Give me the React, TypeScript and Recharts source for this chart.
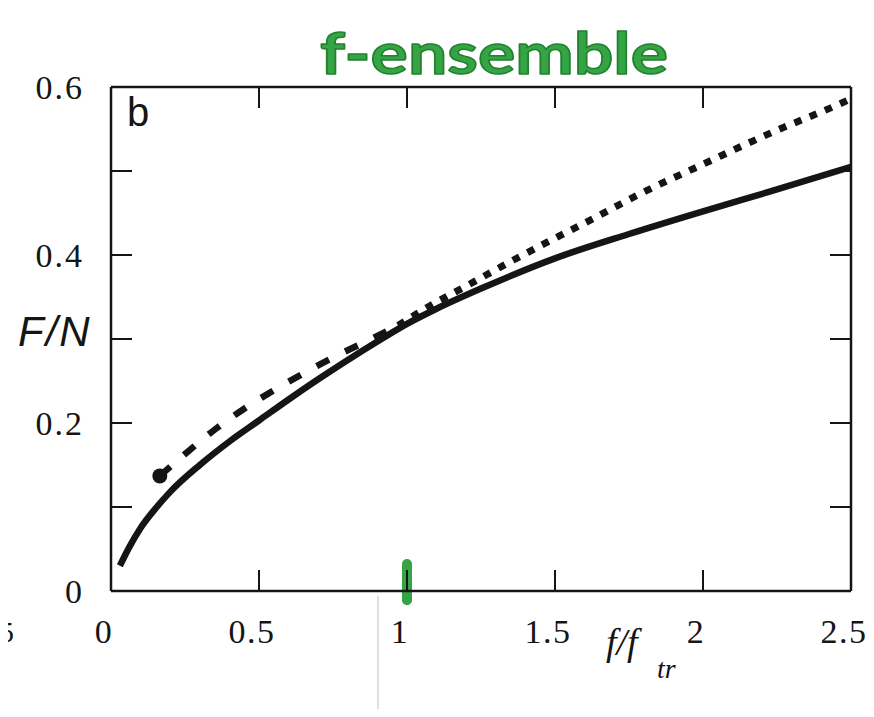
import React from 'react';
import { LineChart, Line, XAxis, YAxis, ReferenceLine } from 'recharts';

// Axis ticks
const xLabelTicks = [0, 0.5, 1, 1.5, 2, 2.5];
const xFrameTicks = [0.5, 1, 1.5, 2];
const yLabelTicks = [0, 0.2, 0.4, 0.6];
const yFrameTicks = [0.1, 0.2, 0.3, 0.4, 0.5];

// Solid curve: F/N versus f/f_tr
const solidX = [0.03, 0.06, 0.1, 0.15, 0.2, 0.3, 0.4, 0.5, 0.6, 0.7, 0.8, 0.9, 1.0, 1.1, 1.25, 1.5, 1.75, 2.0, 2.25, 2.5];
const solidY = [0.03, 0.051, 0.075, 0.098, 0.118, 0.15, 0.178, 0.203, 0.228, 0.252, 0.275, 0.297, 0.318, 0.336, 0.36, 0.396, 0.425, 0.452, 0.478, 0.505];

// Dashed branch (below f_tr), starting from a filled point
const dashedX = [0.165, 0.25, 0.35, 0.45, 0.55, 0.65, 0.75, 0.85, 0.97];
const dashedY = [0.137, 0.163, 0.192, 0.217, 0.239, 0.259, 0.278, 0.295, 0.316];

// Dotted branch (above f_tr)
const dottedX = [0.97, 1.06, 1.2, 1.36, 1.5, 1.6, 1.8, 2.0, 2.24, 2.45, 2.5];
const dottedY = [0.316, 0.336, 0.363, 0.394, 0.42, 0.438, 0.475, 0.508, 0.547, 0.578, 0.586];

const zip = (xs: number[], ys: number[]) => xs.map((x, i) => ({ x, y: ys[i] }));
const solidData = zip(solidX, solidY);
const dashedData = zip(dashedX, dashedY);
const dottedData = zip(dottedX, dottedY);

const INK = '#151515';
const GREEN = '#34a445';
const SERIF = '"Liberation Serif", "Times New Roman", serif';
const SANS = '"Liberation Sans", Arial, sans-serif';

const yLabelTick = { fontFamily: SERIF, fontSize: 34, fill: INK, letterSpacing: 2 };
const xLabelTick = { fontFamily: SERIF, fontSize: 34, fill: INK, letterSpacing: 1.5, dx: -7 };
const frameLine = { stroke: INK, strokeWidth: 2.5 };
const frameTickLine = { stroke: INK, strokeWidth: 2 };

// frame axes draw tick marks only, no text
const NoLabel = () => <g />;

const StartDot = (props: any) =>
  props.index === 0 ? (
    <circle key="start" cx={props.cx} cy={props.cy} r={7.5} fill={INK} />
  ) : (
    <g key={`n${props.index}`} />
  );

export default function App() {
  return (
    <div style={{ position: 'relative', margin: '-8px 0 0 -8px', width: 874, height: 709 }}>
      <LineChart
        width={874}
        height={709}
        margin={{ top: 86, right: 23, bottom: 58, left: 51 }}
      >
        {/* tick labels; the bottom one also draws the inward x ticks */}
        <XAxis
          xAxisId="lab"
          type="number"
          dataKey="x"
          domain={[0, 2.5]}
          allowDataOverflow
          ticks={xLabelTicks}
          interval={0}
          axisLine={false}
          tickLine={frameTickLine}
          tickSize={-21}
          tickMargin={49}
          height={60}
          tick={xLabelTick}
        />
        <YAxis
          yAxisId="lab"
          type="number"
          domain={[0, 0.6]}
          allowDataOverflow
          ticks={yLabelTicks}
          interval={0}
          axisLine={false}
          tickLine={false}
          tickSize={0}
          tickMargin={27}
          width={60}
          tick={yLabelTick}
        />
        {/* frame with inward ticks */}
        <XAxis
          xAxisId="bottomFrame"
          orientation="bottom"
          type="number"
          domain={[0, 2.5]}
          allowDataOverflow
          ticks={xFrameTicks}
          mirror
          tick={false}
          tickLine={false}
          axisLine={frameLine}
          height={1}
        />
        <XAxis
          xAxisId="topFrame"
          orientation="top"
          type="number"
          dataKey="x"
          domain={[0, 2.5]}
          allowDataOverflow
          ticks={xFrameTicks}
          interval={0}
          tick={NoLabel}
          tickSize={-21}
          tickMargin={0}
          axisLine={frameLine}
          tickLine={frameTickLine}
          height={1}
        />
        <YAxis
          yAxisId="leftFrame"
          orientation="left"
          type="number"
          domain={[0, 0.6]}
          allowDataOverflow
          ticks={yFrameTicks}
          interval={0}
          mirror
          tick={NoLabel}
          tickSize={21}
          axisLine={frameLine}
          tickLine={frameTickLine}
          width={1}
        />
        <YAxis
          yAxisId="rightFrame"
          orientation="right"
          type="number"
          domain={[0, 0.6]}
          allowDataOverflow
          ticks={yFrameTicks}
          interval={0}
          mirror
          tick={NoLabel}
          tickSize={21}
          axisLine={frameLine}
          tickLine={frameTickLine}
          width={1}
        />

        <Line
          xAxisId="topFrame"
          yAxisId="lab"
          data={solidData}
          dataKey="y"
          type="monotone"
          stroke={INK}
          strokeWidth={6.5}
          dot={false}
          activeDot={false}
          isAnimationActive={false}
        />
        <Line
          xAxisId="lab"
          yAxisId="lab"
          data={dashedData}
          dataKey="y"
          type="monotone"
          stroke={INK}
          strokeWidth={6.5}
          strokeDasharray="14 18"
          dot={StartDot}
          activeDot={false}
          isAnimationActive={false}
        />
        <Line
          xAxisId="lab"
          yAxisId="lab"
          data={dottedData}
          dataKey="y"
          type="monotone"
          stroke={INK}
          strokeWidth={7}
          strokeDasharray="7.5 9"
          dot={false}
          activeDot={false}
          isAnimationActive={false}
        />
        {/* green highlight at f = f_tr */}
        <ReferenceLine
          xAxisId="lab"
          yAxisId="lab"
          segment={[{ x: 1, y: -0.011 }, { x: 1, y: 0.032 }]}
          stroke={GREEN}
          strokeWidth={10}
          strokeLinecap="round"
          ifOverflow="visible"
        />
      </LineChart>

      {/* annotation layer in page coordinates */}
      <svg
        width={874}
        height={709}
        style={{ position: 'absolute', left: 0, top: 0, pointerEvents: 'none' }}
      >
        {/* edge of the neighbouring panel */}
        <rect x={2} y={72} width={6} height={56} fill="#2b2b2b" />
        <rect x={4} y={128} width={2} height={462} fill="#d2d2d2" />
        <text x={-1} y={642} fontFamily={SERIF} fontSize={30} fill={INK}>5</text>
        {/* page fold */}
        <line x1={378} y1={596} x2={378} y2={709} stroke="#d4d4d4" strokeWidth={1.5} />

        <text
          x={320}
          y={74}
          fontFamily='"Lato", "DejaVu Sans", sans-serif'
          fontWeight={700}
          fontSize={58}
          fill={GREEN}
          stroke="#22802f"
          strokeWidth={1.5}
          strokeLinejoin="round"
          textLength={348}
          lengthAdjust="spacingAndGlyphs"
        >
          f-ensemble
        </text>
        <text x={127} y={126} fontFamily={SANS} fontSize={40} fill={INK}>b</text>
        <text x={18} y={346} fontFamily={SANS} fontStyle="italic" fontSize={42} letterSpacing={2} fill={INK}>
          F/N
        </text>
        <text x={606} y={655} fontFamily={SERIF} fontStyle="italic" fontSize={38} fill={INK}>
          f/f
        </text>
        <text x={657} y={678} fontFamily={SERIF} fontStyle="italic" fontSize={28} fill={INK}>
          tr
        </text>
      </svg>
    </div>
  );
}
